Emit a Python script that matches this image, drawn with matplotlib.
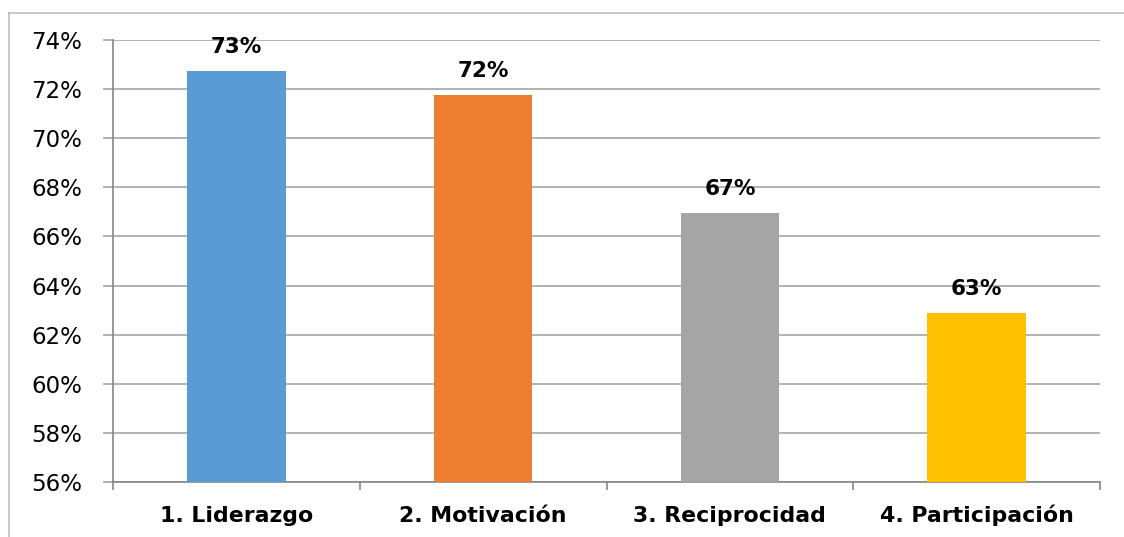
import matplotlib
matplotlib.use("Agg")
import matplotlib.pyplot as plt
from matplotlib.lines import Line2D
from matplotlib.ticker import FuncFormatter, FixedLocator

categories = ["1. Liderazgo", "2. Motivación", "3. Reciprocidad", "4. Participación"]
values = [0.7275, 0.7175, 0.6695, 0.6287]
colors = ["#5B9BD5", "#ED7D31", "#A5A5A5", "#FFC000"]
y_ticks = [0.56, 0.58, 0.60, 0.62, 0.64, 0.66, 0.68, 0.70, 0.72, 0.74]

W, H = 1124, 537
fig = plt.figure(figsize=(W / 100, H / 100), dpi=100)
fig.patch.set_facecolor("white")

ax = fig.add_axes([113 / W, 1 - 482 / H, (1100 - 113) / W, (482 - 40) / H])

x = list(range(len(categories)))
bars = ax.bar(x, values, width=0.40, color=colors, zorder=3)

ax.set_xlim(-0.5, len(categories) - 0.5)
ax.set_ylim(y_ticks[0], y_ticks[-1])
ax.set_yticks(y_ticks)
ax.yaxis.set_major_formatter(FuncFormatter(lambda v, _: f"{v * 100:.0f}%"))
ax.grid(axis="y", color="#A6A6A6", linewidth=1.2, zorder=0)

ax.set_xticks(x)
ax.set_xticklabels(categories, fontsize=15.8, fontweight="bold", family="DejaVu Sans")
for lbl in ax.get_xticklabels():
    lbl.set_verticalalignment("baseline")
ax.xaxis.set_minor_locator(FixedLocator([i - 0.5 for i in range(len(categories) + 1)]))
ax.tick_params(axis="x", which="major", length=0, pad=28.5)
ax.tick_params(axis="x", which="minor", length=6, width=1.2, color="#868686", direction="out")
ax.tick_params(axis="y", length=7, width=1.2, color="#A6A6A6", direction="out", pad=15,
               labelsize=16.5)

for side in ("top", "right"):
    ax.spines[side].set_visible(False)
for side in ("left", "bottom"):
    ax.spines[side].set_color("#868686")
    ax.spines[side].set_linewidth(1.2)

for rect, v in zip(bars, values):
    ax.annotate(f"{v * 100:.0f}%", (rect.get_x() + rect.get_width() / 2, v),
                xytext=(0, 13), textcoords="offset points", ha="center", va="baseline",
                fontsize=15.5, fontweight="bold")

# chart frame (left and top edges)
fig.add_artist(Line2D([9 / W, 9 / W], [0, 1 - 13 / H], transform=fig.transFigure,
                      color="#BFBFBF", linewidth=1.2))
fig.add_artist(Line2D([9 / W, 1], [1 - 13 / H, 1 - 13 / H], transform=fig.transFigure,
                      color="#BFBFBF", linewidth=1.2))

fig.savefig("out.png", dpi=100, facecolor="white")
